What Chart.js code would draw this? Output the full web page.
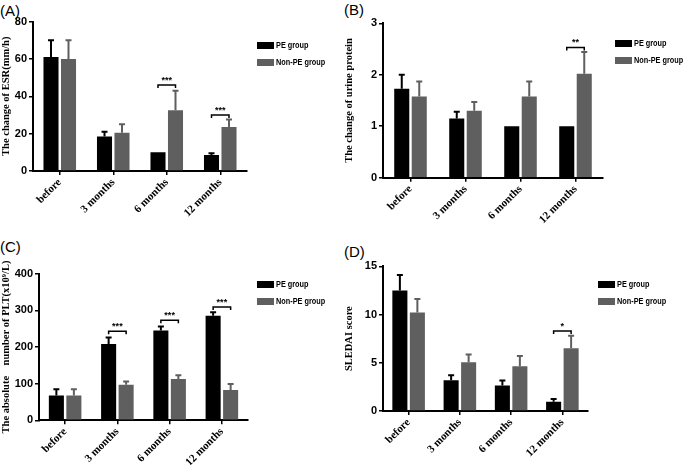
<!DOCTYPE html>
<html>
<head>
<meta charset="utf-8">
<script src="https://cdn.jsdelivr.net/npm/chart.js@4.4.1/dist/chart.umd.min.js"></script>
<style>
    body { margin: 0; background: #fff; }
    #page { position: relative; width: 686px; height: 465px; overflow: hidden; }
    .panel { position: absolute; }
    .tag { position: absolute; font: 15px "Liberation Sans", Arial, sans-serif; color: #000; }
    .leg { position: absolute; font: bold 8.5px "Liberation Sans", Arial, sans-serif; color: #000; white-space: nowrap; }
    .leg span { position: absolute; left: 0; width: 17px; height: 7px; }
    .leg b { position: absolute; left: 19px; top: -2px; transform: scaleX(0.86); transform-origin: left center; }
</style>
</head>
<body>
<div id="page">
    <div class="tag" style="left:0px;top:2px">(A)</div>
    <div class="tag" style="left:344px;top:1px">(B)</div>
    <div class="tag" style="left:0px;top:238px">(C)</div>
    <div class="tag" style="left:344px;top:243px">(D)</div>
</div>
<script>
const categories = ['before', '3 months', '6 months', '12 months'];
const seriesNames = ['PE group', 'Non-PE group'];
const seriesColors = ['#000000', '#5f5f5f'];

// (A) ESR, bar = mean, upper = top of the error whisker
const esrPe = [61, 18.5, 10, 8.5];
const esrPeUpper = [70, 21, 10.5, 9.5];
const esrNonPe = [60, 20.5, 32.5, 23.5];
const esrNonPeUpper = [70, 25, 43, 27.5];
const esrTicks = [0, 20, 40, 60, 80];

// (B) urine protein
const urinePe = [1.73, 1.15, 1.0, 1.0];
const urinePeUpper = [2.0, 1.28, 1.0, 1.0];
const urineNonPe = [1.58, 1.3, 1.58, 2.02];
const urineNonPeUpper = [1.87, 1.47, 1.87, 2.44];
const urineTicks = [0, 1, 2, 3];

// (C) platelets
const pltPe = [68, 208, 245, 285];
const pltPeUpper = [85, 226, 256, 295];
const pltNonPe = [68, 97, 113, 83];
const pltNonPeUpper = [85, 106, 123, 99];
const pltTicks = [0, 100, 200, 300, 400];

// (D) SLEDAI
const sledaiPe = [12.5, 3.2, 2.65, 0.95];
const sledaiPeUpper = [14.1, 3.7, 3.15, 1.25];
const sledaiNonPe = [10.2, 5.05, 4.65, 6.5];
const sledaiNonPeUpper = [11.6, 5.85, 5.7, 7.8];
const sledaiTicks = [0, 5, 10, 15];

// significance brackets: category index, height in data units, stars
const esrSig = [{i: 2, y: 46, text: '***'}, {i: 3, y: 30, text: '***'}];
const urineSig = [{i: 3, y: 2.53, text: '**'}];
const pltSig = [{i: 1, y: 243, text: '***'}, {i: 2, y: 273, text: '***'}, {i: 3, y: 309, text: '***'}];
const sledaiSig = [{i: 3, y: 8.3, text: '*'}];

const panels = [
    {left: 0, top: 0, w: 343, h: 232, yW: 33, padTop: 21.5, padRight: 96, xH: 61,
     title: 'The change of ESR(mm/h)', pe: esrPe, peUp: esrPeUpper, non: esrNonPe, nonUp: esrNonPeUpper,
     ticks: esrTicks, sig: esrSig, legX: 257, legY: 42},
    {left: 343, top: 0, w: 343, h: 232, yW: 40, padTop: 23.3, padRight: 83, xH: 54.3,
     title: 'The change of urine protein', pe: urinePe, peUp: urinePeUpper, non: urineNonPe, nonUp: urineNonPeUpper,
     ticks: urineTicks, sig: urineSig, legX: 615, legY: 40},
    {left: 0, top: 232, w: 343, h: 233, yW: 39, padTop: 41.7, padRight: 95, xH: 44.7,
     title: 'The absolute    number of PLT(x10\u2079/L)', pe: pltPe, peUp: pltPeUpper, non: pltNonPe, nonUp: pltNonPeUpper,
     ticks: pltTicks, sig: pltSig, legX: 257, legY: 281},
    {left: 343, top: 232, w: 343, h: 233, yW: 40, padTop: 34.3, padRight: 98, xH: 54,
     title: 'SLEDAI score', pe: sledaiPe, peUp: sledaiPeUpper, non: sledaiNonPe, nonUp: sledaiNonPeUpper,
     ticks: sledaiTicks, sig: sledaiSig, legX: 598, legY: 281}
];

// one-sided error whiskers with a cap
const errorBars = {
    id: 'errorBars',
    afterDatasetsDraw(chart) {
        const ctx = chart.ctx;
        const yScale = chart.scales.y;
        ctx.save();
        ctx.lineWidth = 2;
        chart.data.datasets.forEach((ds, d) => {
            const meta = chart.getDatasetMeta(d);
            meta.data.forEach((bar, i) => {
                const top = yScale.getPixelForValue(ds.upper[i]);
                if (bar.y - top < 1) return;
                ctx.strokeStyle = ds.backgroundColor;
                ctx.beginPath();
                ctx.moveTo(bar.x, bar.y);
                ctx.lineTo(bar.x, top);
                ctx.moveTo(bar.x - 3, top);
                ctx.lineTo(bar.x + 3, top);
                ctx.stroke();
            });
        });
        ctx.restore();
    }
};

const brackets = {
    id: 'brackets',
    afterDatasetsDraw(chart, args, opts) {
        const ctx = chart.ctx;
        const yScale = chart.scales.y;
        const m0 = chart.getDatasetMeta(0), m1 = chart.getDatasetMeta(1);
        ctx.save();
        ctx.strokeStyle = '#000';
        ctx.fillStyle = '#000';
        ctx.lineWidth = 1.5;
        ctx.font = 'bold 9px "Liberation Sans", Arial, sans-serif';
        ctx.textAlign = 'center';
        ctx.textBaseline = 'bottom';
        (opts.items || []).forEach(s => {
            const x1 = m0.data[s.i].x, x2 = m1.data[s.i].x;
            const y = yScale.getPixelForValue(s.y);
            ctx.beginPath();
            ctx.moveTo(x1, y + 3);
            ctx.lineTo(x1, y);
            ctx.lineTo(x2, y);
            ctx.lineTo(x2, y + 3);
            ctx.stroke();
            ctx.fillText(s.text, (x1 + x2) / 2, y);
        });
        ctx.restore();
    }
};

const page = document.getElementById('page');

panels.forEach(p => {
    const box = document.createElement('div');
    box.className = 'panel';
    box.style.cssText = `left:${p.left}px;top:${p.top}px;width:${p.w}px;height:${p.h}px`;
    const canvas = document.createElement('canvas');
    box.appendChild(canvas);
    page.appendChild(box);

    const areaW = p.w - p.yW - p.padRight;
    const catPct = 35 / (areaW / categories.length);

    new Chart(canvas, {
        type: 'bar',
        data: {
            labels: categories,
            datasets: [
                {label: seriesNames[0], data: p.pe, upper: p.peUp, backgroundColor: seriesColors[0]},
                {label: seriesNames[1], data: p.non, upper: p.nonUp, backgroundColor: seriesColors[1]}
            ]
        },
        options: {
            responsive: true,
            maintainAspectRatio: false,
            animation: false,
            categoryPercentage: catPct,
            barPercentage: 0.86,
            layout: {padding: {left: 0, top: p.padTop, right: p.padRight, bottom: 0}},
            plugins: {
                legend: {display: false},
                tooltip: {enabled: false},
                brackets: {items: p.sig}
            },
            scales: {
                x: {
                    border: {display: true, color: '#000', width: 2},
                    grid: {display: true, drawOnChartArea: false, offset: false, color: '#000', lineWidth: 1.5, tickLength: 4},
                    ticks: {
                        color: '#000', autoSkip: false, minRotation: 45, maxRotation: 45, padding: 1,
                        font: {family: '"Liberation Serif", "Times New Roman", serif', size: 11, weight: 'bold'}
                    },
                    afterFit: s => { s.height = p.xH; }
                },
                y: {
                    min: p.ticks[0],
                    max: p.ticks[p.ticks.length - 1],
                    afterBuildTicks: s => { s.ticks = p.ticks.map(v => ({value: v})); },
                    border: {display: true, color: '#000', width: 2},
                    grid: {display: true, drawOnChartArea: false, color: '#000', lineWidth: 1.5, tickLength: 4},
                    ticks: {
                        color: '#000', padding: 2,
                        font: {family: '"Liberation Sans", Arial, sans-serif', size: 11, weight: 'bold'}
                    },
                    title: {
                        display: true, text: p.title, color: '#000', padding: {top: 0, bottom: 2},
                        font: {family: '"Liberation Serif", "Times New Roman", serif', size: 10.5, weight: 'bold'}
                    },
                    afterFit: s => { s.width = p.yW; }
                }
            }
        },
        plugins: [errorBars, brackets]
    });

    // legend
    seriesNames.forEach((name, k) => {
        const leg = document.createElement('div');
        leg.className = 'leg';
        leg.style.left = p.legX + 'px';
        leg.style.top = (p.legY + k * 17) + 'px';
        leg.innerHTML = `<span style="background:${seriesColors[k]}"></span><b>${name}</b>`;
        page.appendChild(leg);
    });
});
</script>
</body>
</html>
